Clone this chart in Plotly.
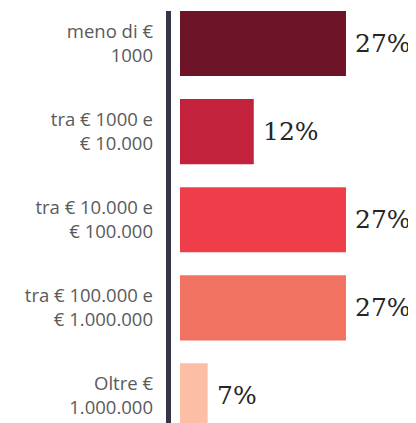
import plotly.graph_objects as go

categories = ["meno di €<br>1000", "tra € 1000 e<br>€ 10.000", "tra € 10.000 e<br>€ 100.000",
              "tra € 100.000 e<br>€ 1.000.000", "Oltre €<br>1.000.000"]
bar_lengths = [27, 12, 27, 27, 4.5]
value_labels = ["27%", "12%", "27%", "27%", "7%"]
colors = ["#6E1427", "#C3223D", "#EF3E4A", "#F27262", "#FCBFA5"]

bargap = 0.26

fig = go.Figure()
fig.add_trace(go.Bar(
    x=bar_lengths, y=categories, orientation="h",
    marker=dict(color=colors, line=dict(width=0)),
    hoverinfo="skip",
))

for v, c, t in zip(bar_lengths, categories, value_labels):
    fig.add_annotation(x=v, y=c, text=t, showarrow=False, xanchor="left", yanchor="middle",
                       xshift=7, font=dict(family="DejaVu Serif", size=25, color="#262626"))

fig.add_shape(type="rect", xref="x domain", yref="y", x0=0, x1=0.02,
              y0=-0.5 + bargap / 2, y1=5, fillcolor="#343647", line=dict(width=0), layer="above")

fig.update_layout(
    width=408, height=415,
    margin=dict(l=158, r=0, t=0, b=0),
    paper_bgcolor="white", plot_bgcolor="white",
    bargap=bargap, showlegend=False,
    xaxis=dict(range=[-2.277, 38.39], visible=False, fixedrange=True),
    yaxis=dict(type="category", range=[4.307, -0.403], showgrid=False, zeroline=False,
               showline=False, ticks="", ticklabelstandoff=12,
               tickfont=dict(family="Open Sans", size=18.5, color="#5A5A5A")),
)

fig.write_html("out.html")
